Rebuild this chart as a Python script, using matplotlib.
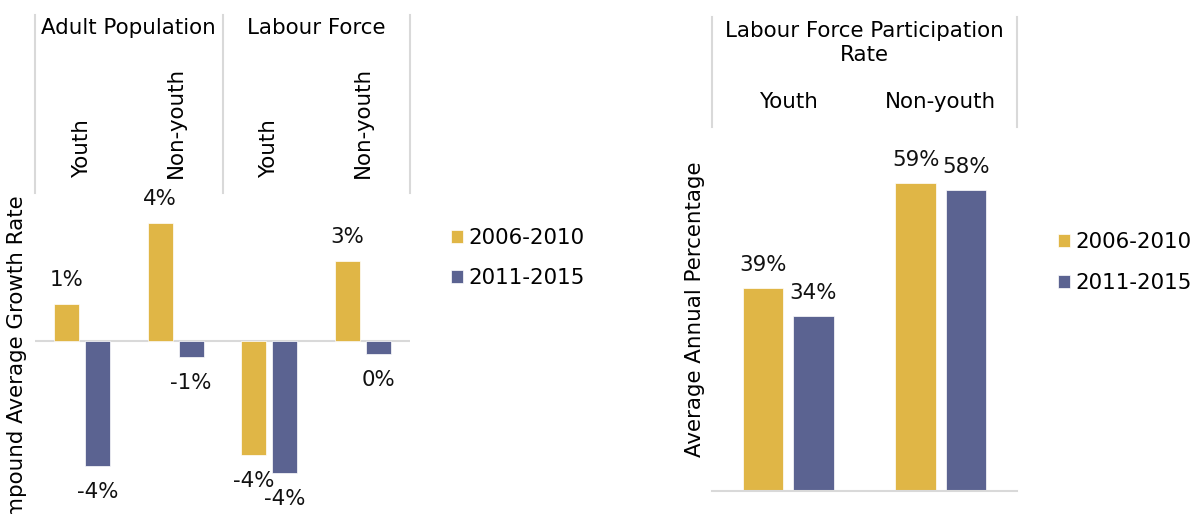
import matplotlib
matplotlib.use("Agg")
import matplotlib.pyplot as plt

# growth rates (%), by group and age band
groups = ["Adult Population", "Labour Force"]
bands = ["Youth", "Non-youth"]
periods = ["2006-2010", "2011-2015"]
growth_0610 = [1.26, 3.99, -3.87, 2.70]
growth_1115 = [-4.22, -0.56, -4.47, -0.44]

# participation rate (%)
lfpr_title = "Labour Force Participation\nRate"
lfpr_0610 = [39.0, 59.3]
lfpr_1115 = [33.6, 57.9]

GOLD = "#E0B646"
SLATE = "#5B6391"
GRID = "#D9D9D9"
FS = 15.4

plt.rcParams["font.family"] = "DejaVu Sans"
plt.rcParams["font.size"] = FS

W, H = 1195, 514
fig = plt.figure(figsize=(W / 100, H / 100), dpi=100)


def px_axes(left, right, top, bottom):
    return fig.add_axes([left / W, 1 - bottom / H, (right - left) / W, (bottom - top) / H])


def pct(v):
    return f"{round(v):.0f}%"


def label_bars(ax, bars, values, up=24, down=26):
    for b, v in zip(bars, values):
        x = b.get_x() + b.get_width() / 2
        off = up if v >= 0 else -down
        ax.annotate(pct(v), (x, v), xytext=(0, off), textcoords="offset pixels",
                    ha="center", va="center", fontsize=FS, color="#111111")


def clean(ax):
    for s in ax.spines.values():
        s.set_visible(False)
    ax.set_yticks([])


# --- left panel: compound growth ---
ax1 = px_axes(35, 410, 193, 548)
x = range(4)
w, off = 0.267, 0.165
b1 = ax1.bar([i - off for i in x], growth_0610, w, color=GOLD, edgecolor="white", linewidth=0.5, label=periods[0])
b2 = ax1.bar([i + off for i in x], growth_1115, w, color=SLATE, edgecolor="white", linewidth=0.5, label=periods[1])
ax1.set_xlim(-0.5, 3.5)
ax1.set_ylim(-7, 5)
ax1.axhline(0, color=GRID, lw=1.5, zorder=0)
clean(ax1)
label_bars(ax1, b1, growth_0610)
label_bars(ax1, b2, growth_1115)

ax1.xaxis.tick_top()
ax1.set_xticks(list(x))
ax1.set_xticklabels(bands * 2, rotation=90)
ax1.tick_params(axis="x", length=0, pad=10.5)
ax1.set_ylabel("Compound Average Growth Rate", labelpad=6)

# group header boxes
hdr_top = (548 - 15) / 355
for xv in (-0.5, 1.5, 3.5):
    ax1.plot([xv, xv], [1, hdr_top], color=GRID, lw=1.5, clip_on=False,
             transform=ax1.get_xaxis_transform())
for i, g in enumerate(groups):
    ax1.text(0.5 + 2 * i, (548 - 28) / 355, g, ha="center", va="center",
             transform=ax1.get_xaxis_transform())

fig.legend(handles=[b1, b2], labels=periods, loc="center left",
           bbox_to_anchor=(451 / W, 1 - 258 / H), frameon=False, borderpad=0,
           borderaxespad=0, handlelength=0.57, handleheight=0.57,
           handletextpad=0.25, labelspacing=0.95, fontsize=FS)

# --- right panel: participation rate ---
ax2 = px_axes(712, 1017, 127, 491)
x2 = range(2)
c1 = ax2.bar([i - off for i in x2], lfpr_0610, w, color=GOLD, edgecolor="white", linewidth=0.5, label=periods[0])
c2 = ax2.bar([i + off for i in x2], lfpr_1115, w, color=SLATE, edgecolor="white", linewidth=0.5, label=periods[1])
ax2.set_xlim(-0.5, 1.5)
ax2.set_ylim(0, 70)
clean(ax2)
ax2.spines["bottom"].set_visible(True)
ax2.spines["bottom"].set_color(GRID)
ax2.spines["bottom"].set_linewidth(1.5)
label_bars(ax2, c1, lfpr_0610, up=23)
label_bars(ax2, c2, lfpr_1115, up=23)

ax2.xaxis.tick_top()
ax2.set_xticks(list(x2))
ax2.set_xticklabels(bands)
ax2.tick_params(axis="x", length=0, pad=10.5, bottom=False)
ax2.set_ylabel("Average Annual Percentage", labelpad=5)

hdr_top2 = (491 - 17) / 364
for xv in (-0.5, 1.5):
    ax2.plot([xv, xv], [1, hdr_top2], color=GRID, lw=1.5, clip_on=False,
             transform=ax2.get_xaxis_transform())
ax2.text(0.5, (491 - 43) / 364, lfpr_title, ha="center", va="center",
         linespacing=1.2, transform=ax2.get_xaxis_transform())

fig.legend(handles=[c1, c2], labels=periods, loc="center left",
           bbox_to_anchor=(1058 / W, 1 - 262.5 / H), frameon=False, borderpad=0,
           borderaxespad=0, handlelength=0.57, handleheight=0.57,
           handletextpad=0.25, labelspacing=0.95, fontsize=FS)

fig.savefig("out.png", dpi=100, facecolor="white")
